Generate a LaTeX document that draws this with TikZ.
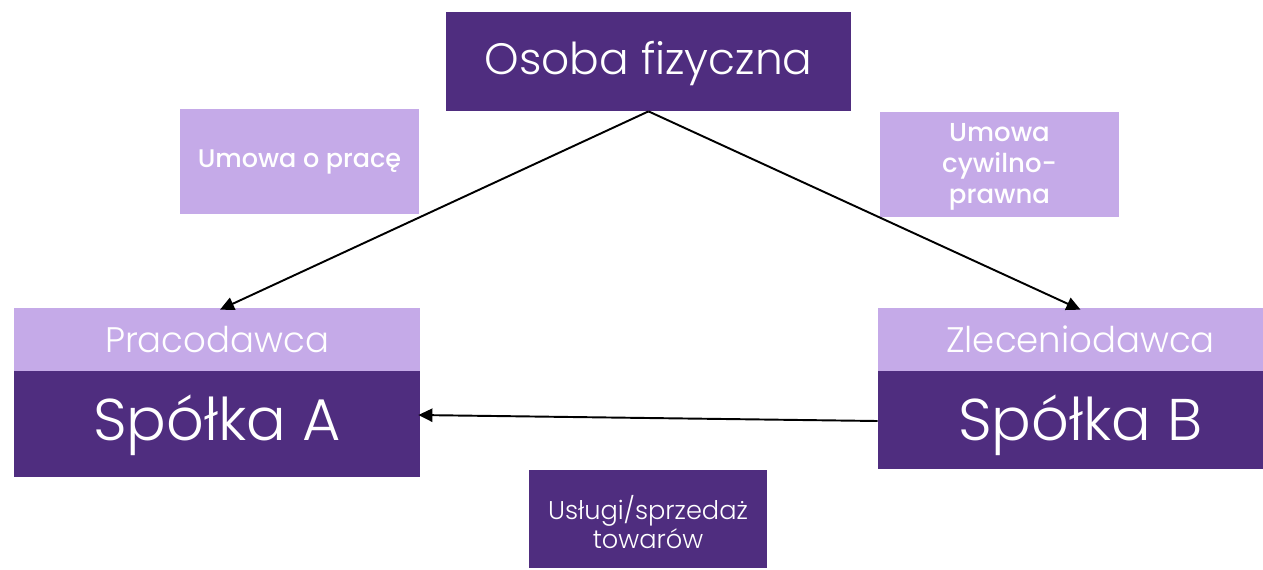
\documentclass[tikz,border=0pt]{standalone}
\usepackage{fontspec}
\setmainfont{Poppins}
\newfontfamily\plight{Poppins Light}
\newfontfamily\pmed{Poppins Medium}
\usetikzlibrary{arrows.meta}
\definecolor{deep}{HTML}{4F2D7F}
\definecolor{soft}{HTML}{C5AAE8}
\newdimen\pxu \pxu=0.02cm
\begin{document}
\begin{tikzpicture}[x=0.02cm,y=-0.02cm,
  darkbox/.style={fill=deep,text=white,inner sep=0pt,align=center},
  lightbox/.style={fill=soft,text=white,inner sep=0pt,align=center},
  link/.style={line width=1.1pt,-{Triangle[length=8pt,width=7.5pt]}}]
\useasboundingbox (0,0) rectangle (1263,569);
\clip (0,0) rectangle (1263,569);
% top party
\node[darkbox,minimum width=405\pxu,minimum height=99\pxu] (osoba) at (648.5,61.5) {};
\node[text=white,font=\plight\fontsize{25}{27}\selectfont] (osobaT) at (648.5,64) {Osoba fizyczna};
% contract labels
\node[lightbox,minimum width=239\pxu,minimum height=105\pxu,font=\pmed\fontsize{14.5}{16}\selectfont]
  (praca) at (299.5,161.5) {Umowa o pracę};
\node[lightbox,minimum width=239\pxu,minimum height=105\pxu] (cywil) at (999.5,164.5) {};
\node[text=white,align=center,font=\pmed\fontsize{14.8}{17.5}\selectfont]
  (cywilT) at (999.5,167) {Umowa\\cywilno-\\prawna};
% company A
\node[lightbox,minimum width=406\pxu,minimum height=63\pxu,font=\plight\fontsize{20.2}{22}\selectfont]
  (pracod) at (217,339.5) {Pracodawca};
\node[darkbox,minimum width=406\pxu,minimum height=106\pxu] (spA) at (217,424) {};
\node[text=white,font=\plight\fontsize{33.5}{36}\selectfont] (spAT) at (217,425) {Spółka A};
% company B
\node[lightbox,minimum width=405\pxu,minimum height=63\pxu,font=\plight\fontsize{20.2}{22}\selectfont]
  (zlec) at (1080.5,339.5) {Zleceniodawca};
\node[darkbox,minimum width=405\pxu,minimum height=98\pxu] (spB) at (1080.5,420) {};
\node[text=white,font=\plight\fontsize{33.5}{36}\selectfont] (spBT) at (1080.5,425) {Spółka B};
% goods label
\node[darkbox,minimum width=238\pxu,minimum height=98\pxu] (uslugi) at (648,519) {};
\node[text=white,align=center,font=\plight\fontsize{14.6}{17}\selectfont]
  (uslugiT) at (648,522) {Usługi/sprzedaż\\towarów};
% connectors
\draw[link] (osoba.south) -- ([xshift=3\pxu,yshift=-2\pxu]pracod.north);
\draw[link] (osoba.south) -- ([yshift=-2\pxu]zlec.north);
\draw[link] ([yshift=-1\pxu]spB.west) -- ([xshift=-2\pxu,yshift=9\pxu]spA.east);
\end{tikzpicture}
\end{document}
